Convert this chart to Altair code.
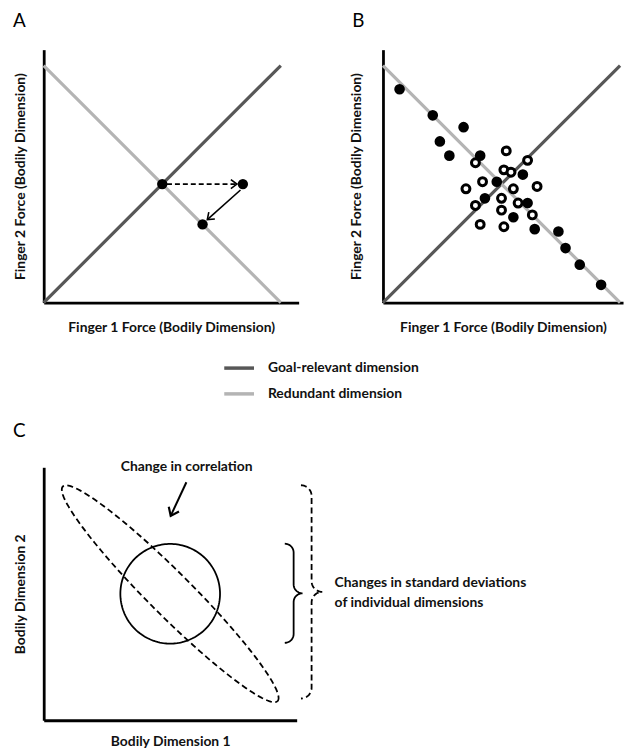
import math
import altair as alt
import numpy as np
import pandas as pd

FONT = "Lato"
WEIGHT = "bold"

# ---------------- data ----------------
dim_names = ["Goal-relevant dimension", "Redundant dimension"]
dim_colors = ["#575757", "#b4b4b4"]
line_dim = ["Goal-relevant dimension", "Goal-relevant dimension",
            "Redundant dimension", "Redundant dimension"]
line_x = [0.0, 1.0, 0.0, 1.0]
line_y = [0.0, 1.0, 1.0, 0.0]
line_step = [0, 1, 0, 1]

# Panel A
a_pt_x = [0.50, 0.84, 0.67]
a_pt_y = [0.50, 0.50, 0.33]
a_dash_x = [0.52, 0.815]
a_dash_y = [0.50, 0.50]
a_solid_x = [0.83, 0.69]
a_solid_y = [0.475, 0.35]

# Panel B
b_full_x = [0.07, 0.21, 0.34, 0.24, 0.28, 0.41, 0.48, 0.59, 0.43, 0.61, 0.55, 0.64, 0.74, 0.77, 0.83, 0.92]
b_full_y = [0.90, 0.79, 0.74, 0.68, 0.62, 0.62, 0.51, 0.54, 0.44, 0.42, 0.36, 0.31, 0.30, 0.23, 0.16, 0.075]
b_open_x = [0.52, 0.61, 0.39, 0.51, 0.54, 0.42, 0.65, 0.35, 0.55, 0.50, 0.57, 0.39, 0.50, 0.63, 0.41, 0.51]
b_open_y = [0.64, 0.60, 0.59, 0.56, 0.55, 0.51, 0.49, 0.48, 0.48, 0.44, 0.42, 0.41, 0.39, 0.37, 0.33, 0.32]

# Panel C
c_cx, c_cy = 0.5, 0.5
circle_r = 0.197
ell_a, ell_b, ell_deg = 0.60, 0.085, -45.0
c_arrow_x = [0.564, 0.502]
c_arrow_y = [0.941, 0.808]
corr_text = ["Change in correlation"]
corr_x = [0.565]
corr_y = [1.0]
sd_text = ["Changes in standard deviations", "of individual dimensions"]
sd_x = [1.15, 1.15]
sd_y = [0.541, 0.463]
brace_inner = dict(x=0.988, y0=0.306, y1=0.698, r=0.035)
brace_outer = dict(x=1.059, y0=0.086, y1=0.929, r=0.042)

# ---------------- sizes ----------------
PPU = 239.0
A_W, B_W, ROW_H = 257, 242, 255
C_W, C_H = 255, 255
A_XMAX, B_XMAX, AB_YMAX = A_W / PPU, B_W / PPU, ROW_H / PPU

CHEVRON = "M-1,-0.75L0,0L-1,0.75"


def head_angle(x0, y0, x1, y1, kx, ky):
    return math.degrees(math.atan2(-(y1 - y0) * ky, (x1 - x0) * kx))


def axis(title, pad):
    return alt.Axis(title=title, domain=True, domainColor="black", domainWidth=2.8,
                    ticks=False, labels=False, grid=False, titleFont=FONT,
                    titleFontSize=14, titleFontWeight=WEIGHT, titleColor="#111111",
                    titlePadding=pad)


def enc(xmax, ymax, xt, yt, xpad, ypad):
    return (alt.X("x:Q", scale=alt.Scale(domain=[0, xmax], nice=False, zero=False), axis=axis(xt, xpad)),
            alt.Y("y:Q", scale=alt.Scale(domain=[0, ymax], nice=False, zero=False), axis=axis(yt, ypad)))


legend_def = alt.Legend(title=None, orient="none", legendX=180, legendY=304,
                        symbolType="stroke", symbolSize=900, symbolStrokeWidth=3.5,
                        labelFont=FONT, labelFontSize=14, labelFontWeight=WEIGHT,
                        labelColor="#111111", labelOffset=12, rowPadding=2,
                        direction="vertical")

lines_df = pd.DataFrame({"dim": line_dim, "x": line_x, "y": line_y, "step": line_step})


def dim_lines(X, Y):
    return alt.Chart(lines_df).mark_line(strokeWidth=3.2).encode(
        x=X, y=Y,
        color=alt.Color("dim:N", scale=alt.Scale(domain=dim_names, range=dim_colors), legend=legend_def),
        detail="dim:N", order="step:Q")


def panel_title(letter, offset):
    return alt.TitleParams(letter, anchor="start", frame="group", dx=-31, offset=offset,
                           fontSize=19, font=FONT, fontWeight="normal", color="black")


# ---------------- panel A ----------------
XA, YA = enc(A_XMAX, AB_YMAX, "Finger 1 Force (Bodily Dimension)", "Finger 2 Force (Bodily Dimension)", 18, 16)
kxa, kya = A_W / A_XMAX, ROW_H / AB_YMAX

a_pts = alt.Chart(pd.DataFrame({"x": a_pt_x, "y": a_pt_y})).mark_circle(
    size=110, color="black", opacity=1).encode(x=XA, y=YA)
a_dash = alt.Chart(pd.DataFrame({"x": a_dash_x, "y": a_dash_y, "step": [0, 1]})).mark_line(
    color="black", strokeWidth=1.6, strokeDash=[5, 3]).encode(x=XA, y=YA, order="step:Q")
a_solid = alt.Chart(pd.DataFrame({"x": a_solid_x, "y": a_solid_y, "step": [0, 1]})).mark_line(
    color="black", strokeWidth=1.6).encode(x=XA, y=YA, order="step:Q")
a_heads_df = pd.DataFrame({
    "x": [a_dash_x[1], a_solid_x[1]],
    "y": [a_dash_y[1], a_solid_y[1]],
    "ang": [head_angle(a_dash_x[0], a_dash_y[0], a_dash_x[1], a_dash_y[1], kxa, kya),
            head_angle(a_solid_x[0], a_solid_y[0], a_solid_x[1], a_solid_y[1], kxa, kya)],
})
a_heads = alt.Chart(a_heads_df).mark_point(
    shape=CHEVRON, size=150, filled=False, color="black", strokeWidth=1.6, opacity=1
).encode(x=XA, y=YA, angle=alt.Angle("ang:Q", scale=None))

panel_a = alt.layer(dim_lines(XA, YA), a_dash, a_solid, a_heads, a_pts).properties(
    width=A_W, height=ROW_H, title=panel_title("A", 19))

# ---------------- panel B ----------------
XB, YB = enc(B_XMAX, AB_YMAX, "Finger 1 Force (Bodily Dimension)", "Finger 2 Force (Bodily Dimension)", 18, 20)
b_full = alt.Chart(pd.DataFrame({"x": b_full_x, "y": b_full_y})).mark_circle(
    size=115, color="black", opacity=1).encode(x=XB, y=YB)
b_open = alt.Chart(pd.DataFrame({"x": b_open_x, "y": b_open_y})).mark_point(
    shape="circle", size=64, filled=True, fill="white", stroke="black", strokeWidth=3, opacity=1
).encode(x=XB, y=YB)
panel_b = alt.layer(dim_lines(XB, YB), b_full, b_open).properties(
    width=B_W, height=ROW_H, title=panel_title("B", 19))

# ---------------- panel C ----------------
XC, YC = enc(1.0, 1.0, "Bodily Dimension 1", "Bodily Dimension 2", 14, 16)
kxc, kyc = C_W / 1.0, C_H / 1.0

t = np.linspace(0, 2 * np.pi, 181)
th = math.radians(ell_deg)
ell_df = pd.DataFrame({
    "x": c_cx + ell_a * np.cos(t) * math.cos(th) - ell_b * np.sin(t) * math.sin(th),
    "y": c_cy + ell_a * np.cos(t) * math.sin(th) + ell_b * np.sin(t) * math.cos(th),
    "step": np.arange(len(t)),
})
circ_df = pd.DataFrame({
    "x": c_cx + circle_r * np.cos(t),
    "y": c_cy + circle_r * np.sin(t),
    "step": np.arange(len(t)),
})


def brace(x, y0, y1, r):
    m = (y0 + y1) / 2
    pts = []
    q = np.linspace(0, np.pi / 2, 12)
    for a in q:
        pts.append((x - r + r * np.sin(a), y1 - r + r * np.cos(a)))
    for a in q:
        pts.append((x + r - r * np.cos(a), m + r - r * np.sin(a)))
    for a in q:
        pts.append((x + r - r * np.sin(a), m - r + r * np.cos(a)))
    for a in q:
        pts.append((x - r + r * np.cos(a), y0 + r - r * np.sin(a)))
    return pd.DataFrame({"x": [p[0] for p in pts], "y": [p[1] for p in pts], "step": range(len(pts))})


c_ell = alt.Chart(ell_df).mark_line(color="black", strokeWidth=1.8, strokeDash=[6, 3.5]).encode(
    x=XC, y=YC, order="step:Q")
c_circ = alt.Chart(circ_df).mark_line(color="black", strokeWidth=1.8).encode(x=XC, y=YC, order="step:Q")
c_br_in = alt.Chart(brace(**brace_inner)).mark_line(color="black", strokeWidth=1.8).encode(
    x=XC, y=YC, order="step:Q")
c_br_out = alt.Chart(brace(**brace_outer)).mark_line(color="black", strokeWidth=1.8, strokeDash=[6, 3.5]).encode(
    x=XC, y=YC, order="step:Q")
c_arrow = alt.Chart(pd.DataFrame({"x": c_arrow_x, "y": c_arrow_y, "step": [0, 1]})).mark_line(
    color="black", strokeWidth=2).encode(x=XC, y=YC, order="step:Q")
c_head = alt.Chart(pd.DataFrame({
    "x": [c_arrow_x[1]], "y": [c_arrow_y[1]],
    "ang": [head_angle(c_arrow_x[0], c_arrow_y[0], c_arrow_x[1], c_arrow_y[1], kxc, kyc)]})
).mark_point(shape=CHEVRON, size=230, filled=False, color="black", strokeWidth=2.2, opacity=1).encode(
    x=XC, y=YC, angle=alt.Angle("ang:Q", scale=None))
c_corr = alt.Chart(pd.DataFrame({"x": corr_x, "y": corr_y, "t": corr_text})).mark_text(
    font=FONT, fontSize=14, fontWeight=WEIGHT, color="#111111", align="center", baseline="middle"
).encode(x=XC, y=YC, text="t:N")
c_sd = alt.Chart(pd.DataFrame({"x": sd_x, "y": sd_y, "t": sd_text})).mark_text(
    font=FONT, fontSize=14, fontWeight=WEIGHT, color="#111111", align="left", baseline="middle"
).encode(x=XC, y=YC, text="t:N")

panel_c = alt.layer(c_ell, c_circ, c_br_in, c_br_out, c_arrow, c_head, c_corr, c_sd).properties(
    width=C_W, height=C_H, title=panel_title("C", 20))

chart = alt.concat(panel_a, panel_b, panel_c, columns=2,
                   spacing={"row": 166, "column": 85}, bounds="flush").properties(
    padding={"left": 4, "top": 0, "right": 0, "bottom": 0}
).configure_view(stroke="transparent")

chart.save("out.html", embed_options={"renderer": "svg", "actions": False})
